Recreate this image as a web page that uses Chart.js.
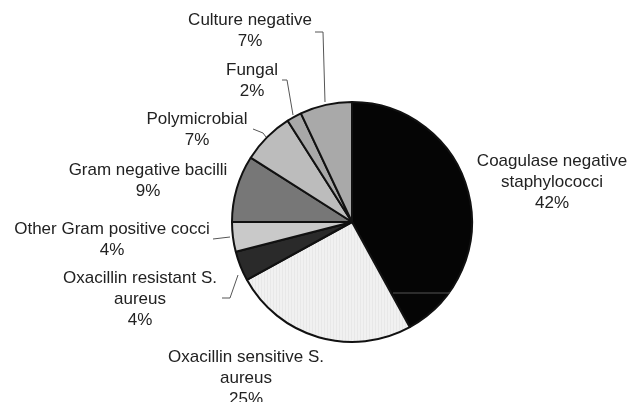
<!DOCTYPE html>
<html lang="en">
<head>
    <meta charset="utf-8">
    <title>Pathogens</title>
    <style>
        html, body { margin: 0; padding: 0; background: #fff; }
        #wrap { width: 630px; height: 402px; position: relative; }
    </style>
</head>
<body>
    <div id="wrap"><canvas id="myChart" width="630" height="402"></canvas></div>
    <script src="https://cdn.jsdelivr.net/npm/chart.js"></script>
    <script>
        // Data, clockwise from 12 o'clock
        const labels = [
            ['Coagulase negative', 'staphylococci'],
            ['Oxacillin sensitive S.', 'aureus'],
            ['Oxacillin resistant S.', 'aureus'],
            ['Other Gram positive cocci'],
            ['Gram negative bacilli'],
            ['Polymicrobial'],
            ['Fungal'],
            ['Culture negative']
        ]
        const percents = [42, 25, 4, 4, 9, 7, 2, 7]

        // Sensitive slice has a faint stippled fill
        function stipple() {
            const c = document.createElement('canvas')
            c.width = 3; c.height = 3
            const g = c.getContext('2d')
            g.fillStyle = '#f1f1f1'
            g.fillRect(0, 0, 3, 3)
            g.fillStyle = '#e8e8e8'
            g.fillRect(0, 0, 1, 3)
            return g.createPattern(c, 'repeat')
        }
        const fills = ['#050505', stipple(), '#2a2a2a', '#c9c9c9', '#777777', '#bcbcbc', '#a8a8a8', '#a9a9a9']

        // Label placement: centre x, first line y, leader polyline
        const labelPos = [
            { x: 552, y: 161, lead: [[393, 293], [450, 293]] },
            { x: 246, y: 357, lead: null },
            { x: 140, y: 278, lead: [[222, 298], [230, 298], [238, 275]] },
            { x: 112, y: 229, lead: [[213, 239], [230, 237]] },
            { x: 148, y: 170, lead: null },
            { x: 197, y: 119, lead: [[253, 129], [263, 133], [266, 137]] },
            { x: 252, y: 70, lead: [[282, 80], [287, 80], [293, 115]] },
            { x: 250, y: 20, lead: [[315, 32], [323, 32], [325, 102]] }
        ]

        const outsideLabels = {
            id: 'outsideLabels',
            afterDraw(chart) {
                const ctx = chart.ctx
                ctx.save()
                ctx.strokeStyle = '#555'
                ctx.lineWidth = 1
                labelPos.forEach(p => {
                    if (!p.lead) return
                    ctx.beginPath()
                    p.lead.forEach((pt, i) => i ? ctx.lineTo(pt[0], pt[1]) : ctx.moveTo(pt[0], pt[1]))
                    ctx.stroke()
                })
                ctx.fillStyle = '#222'
                ctx.font = '17px "Liberation Sans", Arial, sans-serif'
                ctx.textAlign = 'center'
                ctx.textBaseline = 'middle'
                labels.forEach((lines, i) => {
                    const p = labelPos[i]
                    const all = lines.concat([percents[i] + '%'])
                    all.forEach((t, j) => ctx.fillText(t, p.x, p.y + j * 21))
                })
                ctx.restore()
            }
        }

        const config = {
            type: 'pie',
            data: {
                labels: labels.map(l => l.join(' ')),
                datasets: [{
                    data: percents,
                    backgroundColor: fills,
                    borderColor: '#111',
                    borderWidth: 2
                }]
            },
            options: {
                responsive: false,
                animation: false,
                layout: { padding: { left: 231, right: 157, top: 101, bottom: 59 } },
                plugins: {
                    legend: { display: false },
                    tooltip: { enabled: false }
                }
            },
            plugins: [outsideLabels]
        }
        const chart_object = new Chart(document.getElementById('myChart').getContext('2d'), config)
    </script>
</body>
</html>
